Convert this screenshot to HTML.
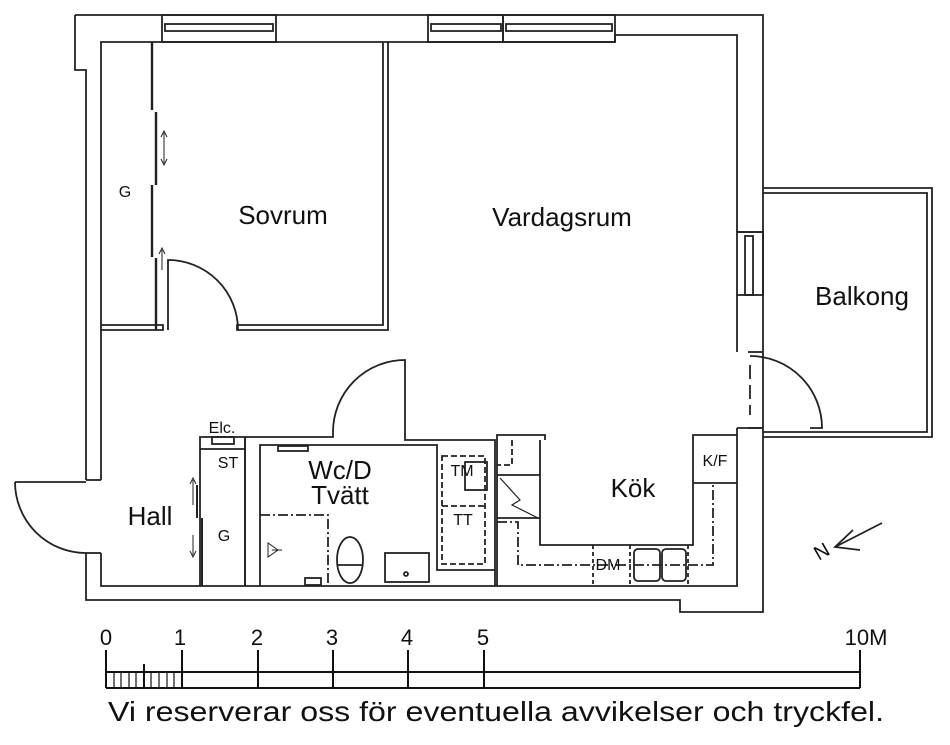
<!DOCTYPE html>
<html><head><meta charset="utf-8"><style>
html,body{margin:0;padding:0;background:#fff;}
svg{display:block;}
text{font-family:"Liberation Sans",sans-serif;fill:#111;}
</style></head><body>
<svg width="950" height="745" viewBox="0 0 950 745" xmlns="http://www.w3.org/2000/svg">
<g fill="none" stroke="#222" stroke-width="1.8">
<!-- outer wall -->
<path d="M75,15 L763,15 L763,612 L680,612 L680,600 L86,600 L86,553"/>
<path d="M86,480 L86,70 L75,70 L75,15"/>
<path d="M101,480 L101,42 L615,42 L615,35 L737,35 L737,232"/>
<path d="M101,553 L101,586 L737,586 L737,428"/>
<line x1="86" y1="480" x2="101" y2="480"/><line x1="86" y1="553" x2="101" y2="553"/>
<!-- top windows -->
<rect x="162" y="15" width="114" height="27"/><rect x="165" y="24" width="108" height="7"/>
<rect x="428" y="15" width="75" height="27"/><rect x="431" y="24" width="70" height="7"/>
<rect x="503" y="15" width="112" height="27"/><rect x="506" y="24" width="106" height="7"/>
<!-- right wall window & door -->
<line x1="737" y1="232" x2="763" y2="232"/>
<rect x="737" y="232" width="26" height="63"/><rect x="745" y="236" width="8" height="59"/>
<line x1="737" y1="295" x2="737" y2="352"/>
<line x1="748" y1="352" x2="763" y2="352"/><line x1="748" y1="428" x2="763" y2="428"/>
<line x1="737" y1="428" x2="763" y2="428"/>
<line x1="750" y1="365" x2="750" y2="415" stroke-dasharray="14,6"/>
<path d="M750,356 A72,72 0 0 1 822,428 L810,428"/>
<!-- balcony -->
<path d="M763,188 L932,188 L932,437 L763,437"/><path d="M763,193 L927,193 L927,432 L763,432"/>
<!-- Sovrum -->
<path d="M383,42 L383,325 L237,325 L237,330 L388,330 L388,42"/>
<path d="M101,325 L163,325 L163,330 L101,330"/>
<line x1="152" y1="42" x2="152" y2="110" stroke-width="2.4"/>
<line x1="156" y1="112" x2="156" y2="185" stroke-width="2.4"/>
<line x1="152" y1="185" x2="152" y2="257" stroke-width="2.4"/>
<line x1="156" y1="258" x2="156" y2="330" stroke-width="2.4"/>
<path d="M168,330 L168,260 A70,70 0 0 1 238,330"/>
<path d="M164,133 L164,163 M161,137 L164,131 L167,137 M161,159 L164,165 L167,159" stroke-width="1"/>
<path d="M162,270 L162,250 M159,254 L162,248 L165,254" stroke-width="1"/>
<!-- hall door -->
<path d="M15,482 L86,482 M15,482 A71,71 0 0 0 86,553"/>
<!-- closet Elc/ST/G -->
<path d="M200,586 L200,437 L245,437 L245,586"/><line x1="200" y1="449" x2="245" y2="449"/>
<rect x="212" y="437" width="22" height="7"/>
<line x1="197" y1="485" x2="197" y2="518" stroke-width="2"/><line x1="202" y1="518" x2="202" y2="586" stroke-width="2"/>
<path d="M193,480 L193,505 M190,484 L193,478 L196,484 M193,535 L193,555 M190,551 L193,557 L196,551" stroke-width="1"/>
<!-- bathroom -->
<path d="M245,437 L333,437 L333,432 M245,437 L245,586"/>
<path d="M260,586 L260,445 L437,445 L437,570 L495,570"/>
<path d="M333,432 A72,72 0 0 1 405,360 L405,440 L495,440 L495,586"/>
<rect x="278" y="446" width="30" height="5"/>
<path d="M260,515 L328,515 L328,586" stroke-dasharray="10,3,2,3"/>
<path d="M278,550 L268,543 L268,557 Z M272,550 L282,550" stroke-width="1"/>
<ellipse cx="350" cy="560" rx="13" ry="23"/><line x1="337" y1="565" x2="363" y2="565"/>
<rect x="385" y="553" width="44" height="29"/><circle cx="406" cy="574" r="2"/>
<rect x="305" y="578" width="16" height="7"/>
<!-- washer -->
<rect x="442" y="456" width="43" height="108" stroke-dasharray="6,3"/>
<line x1="442" y1="506" x2="485" y2="506" stroke-dasharray="6,3"/>
<rect x="465" y="462" width="22" height="28"/>
<!-- kitchen -->
<path d="M497,586 L497,435 L545,435 L545,440 M540,440 L540,545 L693,545 L693,435 L737,435"/>
<path d="M693,483 L737,483"/>
<path d="M497,475 L540,475 M497,518 L540,518"/>
<path d="M512,440 L512,465 L497,465" stroke-dasharray="6,3"/>
<path d="M500,478 L520,500 L512,505 L538,518" stroke-width="1.2"/>
<path d="M497,522 L518,522 L518,565 L713,565 L713,485" stroke-dasharray="10,3,2,3"/>
<path d="M593,545 L593,586 M630,545 L630,586 M688,545 L688,586" stroke-dasharray="4,3"/>
<rect x="634" y="549" width="26" height="32" rx="4"/><rect x="662" y="549" width="24" height="32" rx="4"/>
<!-- north arrow -->
<path d="M882,523 L835,547 M853,530 L835,547 L860,550"/>
<!-- scale bar -->
<g stroke="#111" stroke-width="2">
<line x1="106" y1="650" x2="106" y2="688"/><line x1="182" y1="650" x2="182" y2="688"/>
<line x1="258" y1="650" x2="258" y2="688"/><line x1="333" y1="650" x2="333" y2="688"/>
<line x1="408" y1="650" x2="408" y2="688"/><line x1="484" y1="650" x2="484" y2="688"/>
<line x1="860" y1="650" x2="860" y2="688"/>
<line x1="106" y1="672" x2="860" y2="672"/><line x1="106" y1="688" x2="860" y2="688"/>
<line x1="144" y1="664" x2="144" y2="688"/>
</g>
<path d="M114,672V688M121,672V688M129,672V688M136,672V688M151,672V688M159,672V688M167,672V688M174,672V688" stroke="#111" stroke-width="1.2"/>
</g>
<g font-size="26">
<text x="283" y="224" text-anchor="middle">Sovrum</text>
<text x="562" y="226" text-anchor="middle">Vardagsrum</text>
<text x="862" y="305" text-anchor="middle">Balkong</text>
<text x="150" y="525" text-anchor="middle">Hall</text>
<text x="633" y="497" text-anchor="middle">Kök</text>
<text x="340" y="479" text-anchor="middle">Wc/D</text>
<text x="340" y="504" text-anchor="middle">Tvätt</text>
</g>
<g font-size="16" text-anchor="middle">
<text x="125" y="197">G</text><text x="222" y="433">Elc.</text><text x="228" y="468">ST</text>
<text x="224" y="541">G</text><text x="462" y="476">TM</text><text x="463" y="525">TT</text>
<text x="715" y="466">K/F</text><text x="608" y="570">DM</text>
</g>
<text x="822" y="558" font-size="20" transform="rotate(-30 822 552)" text-anchor="middle">N</text>
<g font-size="22" text-anchor="middle">
<text x="106" y="645">0</text><text x="180" y="645">1</text><text x="257" y="645">2</text>
<text x="332" y="645">3</text><text x="407" y="645">4</text><text x="483" y="645">5</text>
<text x="866" y="645">10M</text>
</g>
<text x="108" y="721" font-size="28" textLength="776" lengthAdjust="spacingAndGlyphs">Vi reserverar oss för eventuella avvikelser och tryckfel.</text>
</svg>
</body></html>
